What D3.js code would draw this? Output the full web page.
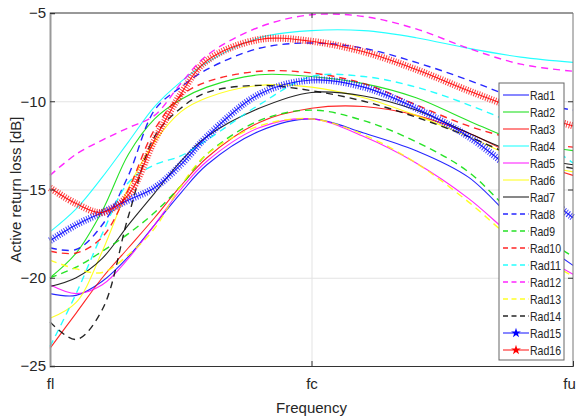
<!DOCTYPE html>
<html>
<head>
<meta charset="utf-8">
<script src="https://cdn.jsdelivr.net/npm/d3@7"></script>
<style>
  body { margin: 0; background: #fff; }
  text { font-family: "Liberation Sans", Arial, sans-serif; fill: #262626; }
</style>
</head>
<body>
<div id="chart"></div>
<script>
// normalised frequency positions (fl = 0, fc = 0.5, fu = 1)
var freq = [0, 0.05, 0.1, 0.15, 0.2, 0.25, 0.3, 0.4, 0.5, 0.6, 0.7, 0.8, 0.9, 1];
var xTickVals = [0, 0.5, 1];
var xTickLabels = ["fl", "fc", "fu"];
var yTicks = [-25, -20, -15, -10, -5];

var rad1  = [-20.9, -21.0, -20.2, -18.8, -17.0, -15.2, -13.6, -11.7, -11.0, -11.8, -12.8, -14.3, -17.1, -19.3];
var rad2  = [-20.0, -18.6, -16.2, -13.0, -11.0, -9.9, -9.2, -8.5, -8.6, -9.0, -9.8, -11.1, -12.3, -12.8];
var rad3  = [-24.0, -22.0, -20.0, -18.3, -16.6, -14.8, -13.2, -11.2, -10.4, -10.3, -10.8, -11.8, -13.2, -14.2];
var rad4  = [-17.4, -16.1, -14.3, -12.3, -10.3, -8.9, -7.8, -6.4, -6.0, -6.0, -6.4, -7.0, -7.5, -7.8];
var rad5  = [-20.4, -20.9, -20.4, -18.9, -17.0, -15.0, -13.4, -11.5, -11.0, -12.0, -13.5, -15.5, -18.0, -19.8];
var rad6  = [-22.3, -21.4, -18.5, -14.9, -12.3, -10.6, -9.8, -9.1, -9.2, -9.8, -10.8, -12.0, -13.3, -14.0];
var rad7  = [-20.5, -20.0, -18.9, -17.0, -15.2, -13.4, -12.0, -10.4, -9.5, -9.7, -10.5, -11.8, -13.0, -13.6];
var rad8  = [-18.3, -18.4, -17.0, -14.2, -10.5, -9.2, -8.2, -7.0, -6.7, -7.0, -7.8, -8.8, -9.9, -10.5];
var rad9  = [-20.0, -19.4, -18.5, -17.5, -16.3, -14.8, -13.0, -11.1, -10.5, -11.1, -12.3, -14.0, -16.8, -18.8];
var rad10 = [-18.5, -18.6, -17.7, -15.0, -11.6, -9.7, -8.9, -8.3, -8.4, -9.0, -10.2, -11.4, -12.2, -12.6];
var rad11 = [-23.9, -20.9, -17.5, -14.6, -13.6, -13.1, -12.2, -10.2, -8.6, -8.6, -9.2, -10.2, -11.5, -13.5];
var rad12 = [-14.2, -13.0, -12.2, -11.5, -10.8, -9.0, -7.4, -5.8, -5.1, -5.2, -5.9, -7.0, -7.9, -8.3];
var rad13 = [-19.0, -19.5, -19.7, -18.7, -17.2, -14.8, -13.0, -11.4, -11.0, -11.9, -13.5, -15.7, -18.2, -19.9];
var rad14 = [-22.5, -23.5, -21.8, -16.5, -12.0, -10.4, -9.5, -9.1, -9.4, -10.0, -10.9, -12.0, -13.2, -13.8];
var rad15 = [-17.9, -17.0, -16.3, -15.6, -14.9, -13.6, -12.0, -9.6, -8.8, -9.2, -10.4, -12.0, -14.3, -16.6];
var rad16 = [-14.9, -15.8, -16.3, -15.3, -12.2, -9.6, -7.7, -6.5, -6.6, -7.2, -8.2, -9.4, -10.5, -11.4];

var names = ["Rad1","Rad2","Rad3","Rad4","Rad5","Rad6","Rad7","Rad8","Rad9","Rad10","Rad11","Rad12","Rad13","Rad14","Rad15","Rad16"];
var values = [rad1, rad2, rad3, rad4, rad5, rad6, rad7, rad8, rad9, rad10, rad11, rad12, rad13, rad14, rad15, rad16];
var colors = ["#0000ff","#00dd00","#ff0000","#00ffff","#ff00ff","#ffff00","#000000",
              "#0000ff","#00dd00","#ff0000","#00ffff","#ff00ff","#ffff00","#000000",
              "#0000ff","#ff0000"];
var styles = ["solid","solid","solid","solid","solid","solid","solid",
              "dash","dash","dash","dash","dash","dash","dash","star","star"];

var W = 578, H = 417;
var m = {top: 13, right: 5, bottom: 51, left: 50};
var pw = W - m.left - m.right, ph = H - m.top - m.bottom;

var x = d3.scaleLinear().domain([0, 1]).range([m.left, m.left + pw]);
var y = d3.scaleLinear().domain([-25, -5]).range([m.top + ph, m.top]);

var svg = d3.select("#chart").append("svg")
    .attr("width", W).attr("height", H);

// grid
svg.append("g")
    .attr("transform", "translate(0," + (m.top + ph) + ")")
    .call(d3.axisBottom(x).tickValues([0.5]).tickSize(-ph).tickFormat(""))
    .call(g => g.select(".domain").remove())
    .selectAll("line").attr("stroke", "#e3e3e3");
svg.append("g")
    .attr("transform", "translate(" + m.left + ",0)")
    .call(d3.axisLeft(y).tickValues([-20, -15, -10]).tickSize(-pw).tickFormat(""))
    .call(g => g.select(".domain").remove())
    .selectAll("line").attr("stroke", "#e3e3e3");

var line = d3.line()
    .x((d, i) => x(freq[i]))
    .y(d => y(d))
    .curve(d3.curveCatmullRom.alpha(0.5));

var plot = svg.append("g");
values.forEach(function(v, k) {
  var st = styles[k];
  if (st == "star") {
    // dense star markers drawn as a hatched band around the line
    plot.append("path").attr("d", line(v))
      .attr("fill", "none").attr("stroke", colors[k])
      .attr("stroke-width", 7).attr("stroke-dasharray", "1,1.5")
      .attr("opacity", 0.75);
  }
  plot.append("path").attr("d", line(v))
    .attr("fill", "none")
    .attr("stroke", colors[k])
    .attr("stroke-width", st == "dash" ? 1.4 : 1.1)
    .attr("stroke-dasharray", st == "dash" ? "7,5" : null)
    .attr("opacity", 0.85);
});

// frame
var frame = svg.append("g").attr("fill", "none");
frame.append("line").attr("x1", m.left).attr("x2", m.left + pw).attr("y1", m.top).attr("y2", m.top)
  .attr("stroke", "#333");
frame.append("line").attr("x1", m.left + pw).attr("x2", m.left + pw).attr("y1", m.top).attr("y2", m.top + ph)
  .attr("stroke", "#777");

// axes
var xAxis = svg.append("g")
    .attr("transform", "translate(0," + (m.top + ph) + ")")
    .call(d3.axisBottom(x).tickValues(xTickVals).tickSize(-5).tickPadding(12)
      .tickFormat((d, i) => xTickLabels[i]));
xAxis.select(".domain").attr("stroke", "#333");
xAxis.selectAll("line").attr("stroke", "#333");
xAxis.selectAll("text").attr("font-size", 15).attr("fill", "#262626")
    .attr("dx", (d) => d == 1 ? -4 : 0);

var yAxis = svg.append("g")
    .attr("transform", "translate(" + m.left + ",0)")
    .call(d3.axisLeft(y).tickValues(yTicks).tickSize(-5).tickPadding(4));
yAxis.select(".domain").attr("stroke", "#999").attr("stroke-width", 2);
yAxis.selectAll("line").attr("stroke", "#333");
yAxis.selectAll("text").attr("font-size", 15).attr("fill", "#262626");

// right + top inner ticks
svg.append("g")
    .attr("transform", "translate(" + (m.left + pw) + ",0)")
    .call(d3.axisRight(y).tickValues([-20, -15, -10]).tickSize(-5).tickFormat(""))
    .call(g => g.select(".domain").remove())
    .selectAll("line").attr("stroke", "#333");
svg.append("g")
    .attr("transform", "translate(0," + m.top + ")")
    .call(d3.axisTop(x).tickValues([0.5]).tickSize(-5).tickFormat(""))
    .call(g => g.select(".domain").remove())
    .selectAll("line").attr("stroke", "#333");

svg.append("text")
    .attr("x", x(0.5)).attr("y", 413)
    .attr("text-anchor", "middle").attr("font-size", 15)
    .text("Frequency");
svg.append("text")
    .attr("transform", "translate(16," + (m.top + ph / 2) + ") rotate(-90)")
    .attr("text-anchor", "middle").attr("dy", "0.35em").attr("font-size", 15)
    .text("Active return loss [dB]");

// legend
var lg = svg.append("g").attr("transform", "translate(499,83)");
lg.append("rect").attr("width", 65).attr("height", 277)
  .attr("fill", "#fff").attr("stroke", "#666");
var item = lg.selectAll("g.item").data(names).join("g")
    .attr("class", "item")
    .attr("transform", (d, i) => "translate(0," + (12 + i * 17) + ")");
item.append("line")
    .attr("x1", 4).attr("x2", 30)
    .attr("stroke", (d, i) => colors[i])
    .attr("stroke-width", (d, i) => styles[i] == "dash" ? 1.4 : 1.1)
    .attr("stroke-dasharray", (d, i) => styles[i] == "dash" ? "5,3.5" : null)
    .attr("opacity", 0.85);
item.filter((d, i) => styles[i] == "star")
  .append("path")
    .attr("d", d3.symbol(d3.symbolStar, 30))
    .attr("transform", "translate(17,0)")
    .attr("fill", (d) => d == "Rad15" ? "#0000ff" : "#ff0000");
item.append("text")
    .attr("x", 31).attr("dy", "0.35em")
    .attr("font-size", 13)
    .attr("textLength", d => d.length > 4 ? 31 : 25)
    .attr("lengthAdjust", "spacingAndGlyphs")
    .text(d => d);
</script>
</body>
</html>
